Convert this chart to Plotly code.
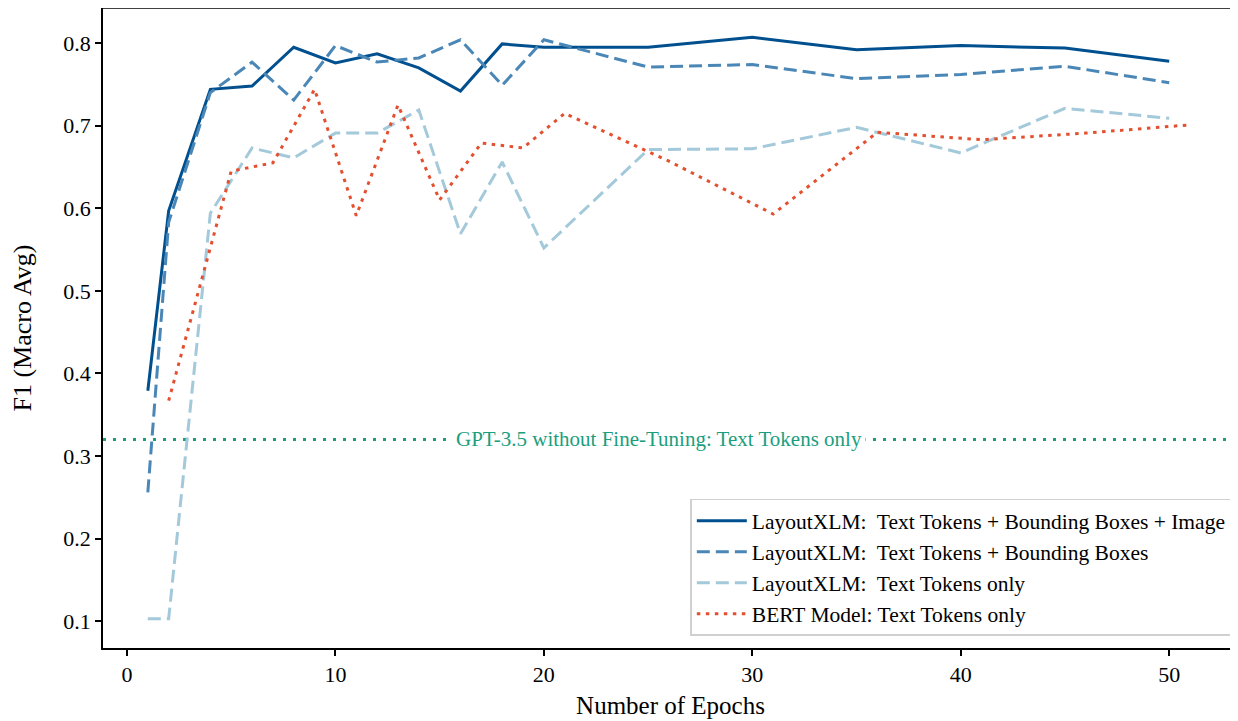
import plotly.graph_objects as go

epochs = [1, 2, 4, 6, 8, 10, 12, 14, 16, 18, 20, 25, 30, 35, 40, 45, 50]
f1_text_bbox_image = [0.379, 0.597, 0.744, 0.748, 0.795, 0.776, 0.787, 0.770, 0.742, 0.799,
                      0.795, 0.795, 0.807, 0.792, 0.797, 0.794, 0.778]
f1_text_bbox = [0.256, 0.583, 0.740, 0.777, 0.731, 0.797, 0.777, 0.782, 0.804, 0.749,
                0.804, 0.771, 0.774, 0.757, 0.762, 0.772, 0.752]
f1_text_only = [0.103, 0.103, 0.594, 0.673, 0.661, 0.691, 0.691, 0.719, 0.569, 0.656,
                0.552, 0.671, 0.672, 0.698, 0.667, 0.721, 0.709]

bert_epochs = [2, 3, 4, 5, 7, 9, 11, 13, 15, 17, 19, 21, 26, 31, 36, 41, 46, 51]
bert_f1 = [0.367, 0.46, 0.555, 0.645, 0.655, 0.744, 0.591, 0.725, 0.610, 0.679, 0.673,
           0.715, 0.657, 0.593, 0.692, 0.683, 0.691, 0.701]

gpt_baseline = 0.32
gpt_label = "GPT-3.5 without Fine-Tuning: Text Tokens only"

names = [
    "LayoutXLM:  Text Tokens + Bounding Boxes + Image",
    "LayoutXLM:  Text Tokens + Bounding Boxes",
    "LayoutXLM:  Text Tokens only",
    "BERT Model: Text Tokens only",
]
x_ticks = [0, 10, 20, 30, 40, 50]
y_ticks = [0.1, 0.2, 0.3, 0.4, 0.5, 0.6, 0.7, 0.8]

FONT = "Liberation Serif, Times New Roman, serif"

fig = go.Figure()
fig.add_trace(go.Scatter(x=epochs, y=f1_text_bbox_image, mode="lines", name=names[0],
                         line=dict(color="#00508f", width=3)))
fig.add_trace(go.Scatter(x=epochs, y=f1_text_bbox, mode="lines", name=names[1],
                         line=dict(color="#4a87b6", width=3, dash="13px,6px")))
fig.add_trace(go.Scatter(x=epochs, y=f1_text_only, mode="lines", name=names[2],
                         line=dict(color="#a3c9da", width=3, dash="13px,6px")))
fig.add_trace(go.Scatter(x=bert_epochs, y=bert_f1, mode="lines", name=names[3],
                         line=dict(color="#e4502f", width=3, dash="3.5px,5.5px")))

fig.add_shape(type="line", xref="paper", x0=0, x1=1, yref="y", y0=gpt_baseline, y1=gpt_baseline,
              line=dict(color="#1b9e7e", width=3, dash="3px,7px"), layer="below")
fig.add_annotation(x=25.5, y=gpt_baseline, xref="x", yref="y", text=gpt_label, showarrow=False,
                   font=dict(family=FONT, size=21, color="#1b9e7e"), bgcolor="white",
                   borderpad=3)

fig.update_layout(
    width=1230, height=713,
    margin=dict(l=95, r=0, t=0, b=73),
    paper_bgcolor="white", plot_bgcolor="white",
    font=dict(family=FONT, size=22, color="black"),
    legend=dict(x=0.995, y=0.019, xanchor="right", yanchor="bottom",
                bgcolor="rgba(255,255,255,0.9)", bordercolor="#d0d0d0", borderwidth=1.5,
                font=dict(family=FONT, size=21.5), itemwidth=50, tracegroupgap=4),
    xaxis=dict(range=[-1.15, 53.3], tickvals=x_ticks, showgrid=False, zeroline=False,
               showline=True, linecolor="black", linewidth=1.5, mirror=False,
               ticks="outside", ticklen=6, tickwidth=1.5, tickcolor="black",
               title=dict(text="Number of Epochs", font=dict(size=25), standoff=10),
               tickfont=dict(size=22)),
    yaxis=dict(range=[0.0675, 0.8425], tickvals=y_ticks, tickformat=".1f", showgrid=False,
               zeroline=False, showline=True, linecolor="black", linewidth=1.5,
               ticks="outside", ticklen=6, tickwidth=1.5, tickcolor="black",
               title=dict(text="F1 (Macro Avg)", font=dict(size=26), standoff=24),
               tickfont=dict(size=22)),
)
# top spine
fig.add_shape(type="line", xref="paper", yref="paper", x0=0, x1=1, y0=1, y1=1,
              line=dict(color="black", width=1.5))

fig.write_html("out.html")
